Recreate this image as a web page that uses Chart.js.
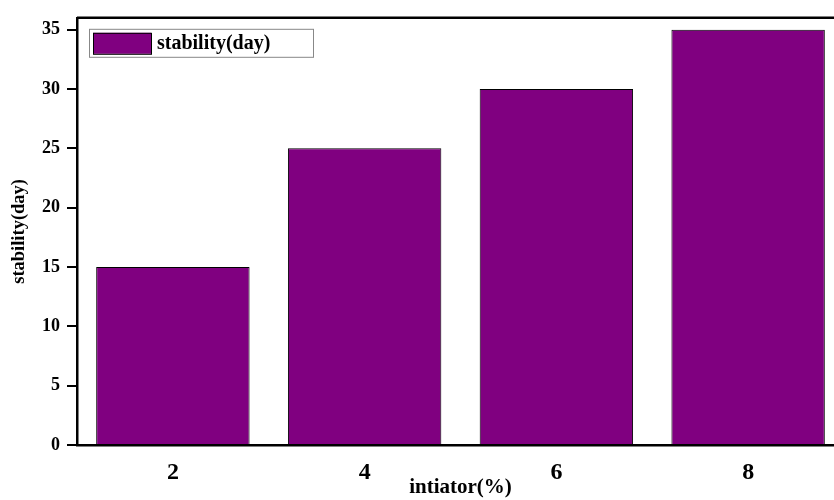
<!DOCTYPE html>
<html>
<head>
<meta charset="utf-8">
<script src="https://cdn.jsdelivr.net/npm/chart.js@4"></script>
<style>
  html, body { margin: 0; padding: 0; background: #fff; overflow: hidden; }
  #wrap { width: 850px; height: 500px; }
</style>
</head>
<body>
<div id="wrap"><canvas id="stabilityChart"></canvas></div>
<script>
const categories = ['2', '4', '6', '8'];
const stabilityDays = [15, 25, 30, 35];
const yTicks = [0, 5, 10, 15, 20, 25, 30, 35];

const serif = '"Liberation Serif", "Times New Roman", serif';
const barColor = '#800080';

// top frame line + legend box inside the plot, like the original figure
const framePlugin = {
    id: 'frame',
    afterDraw(chart) {
        const { ctx, chartArea } = chart;
        ctx.save();
        ctx.strokeStyle = '#000';
        ctx.lineWidth = 2.5;
        ctx.beginPath();
        ctx.moveTo(chartArea.left, chartArea.top);
        ctx.lineTo(chartArea.right, chartArea.top);
        ctx.stroke();

        const x = chartArea.left + 12, y = chartArea.top + 11;
        ctx.lineWidth = 1;
        ctx.strokeStyle = '#888';
        ctx.strokeRect(x + 0.5, y + 0.5, 224, 28);
        ctx.fillStyle = barColor;
        ctx.fillRect(x + 4, y + 4, 58, 21);
        ctx.strokeStyle = '#000';
        ctx.strokeRect(x + 4.5, y + 4.5, 58, 21);
        ctx.fillStyle = '#000';
        ctx.font = 'bold 20px ' + serif;
        ctx.textBaseline = 'middle';
        ctx.fillText(chart.data.datasets[0].label, x + 68, y + 15);
        ctx.restore();
    }
};

new Chart(document.getElementById('stabilityChart'), {
    type: 'bar',
    data: {
        labels: categories,
        datasets: [{
            label: 'stability(day)',
            data: stabilityDays,
            backgroundColor: barColor,
            borderColor: '#000',
            borderWidth: 1,
            barPercentage: 0.8,
            categoryPercentage: 1.0
        }]
    },
    options: {
        responsive: true,
        maintainAspectRatio: false,
        animation: false,
        layout: { padding: { top: 16, right: 6, left: 0, bottom: 0 } },
        plugins: {
            legend: { display: false },
            tooltip: { enabled: false }
        },
        scales: {
            x: {
                afterFit: (s) => { s.height = 55; },
                grid: { display: false },
                border: { color: '#000', width: 2.5 },
                ticks: {
                    color: '#000',
                    padding: 5,
                    font: { family: serif, size: 24, weight: 'bold' }
                },
                title: {
                    display: true,
                    text: 'intiator(%)',
                    color: '#000',
                    padding: { top: 0, bottom: 0 },
                    font: { family: serif, size: 21, weight: 'bold' }
                }
            },
            y: {
                min: 0,
                max: 36,
                afterFit: (s) => { s.width = 77; },
                afterBuildTicks: (s) => { s.ticks = yTicks.map(v => ({ value: v })); },
                grid: {
                    drawOnChartArea: false,
                    drawTicks: true,
                    tickLength: 10,
                    color: '#000',
                    lineWidth: 2
                },
                border: { color: '#000', width: 2.5 },
                ticks: {
                    color: '#000',
                    padding: 7,
                    font: { family: serif, size: 18, weight: 'bold' }
                },
                title: {
                    display: true,
                    text: 'stability(day)',
                    color: '#000',
                    padding: { top: 8, bottom: 0 },
                    font: { family: serif, size: 18.5, weight: 'bold' }
                }
            }
        }
    },
    plugins: [framePlugin]
});
</script>
</body>
</html>
